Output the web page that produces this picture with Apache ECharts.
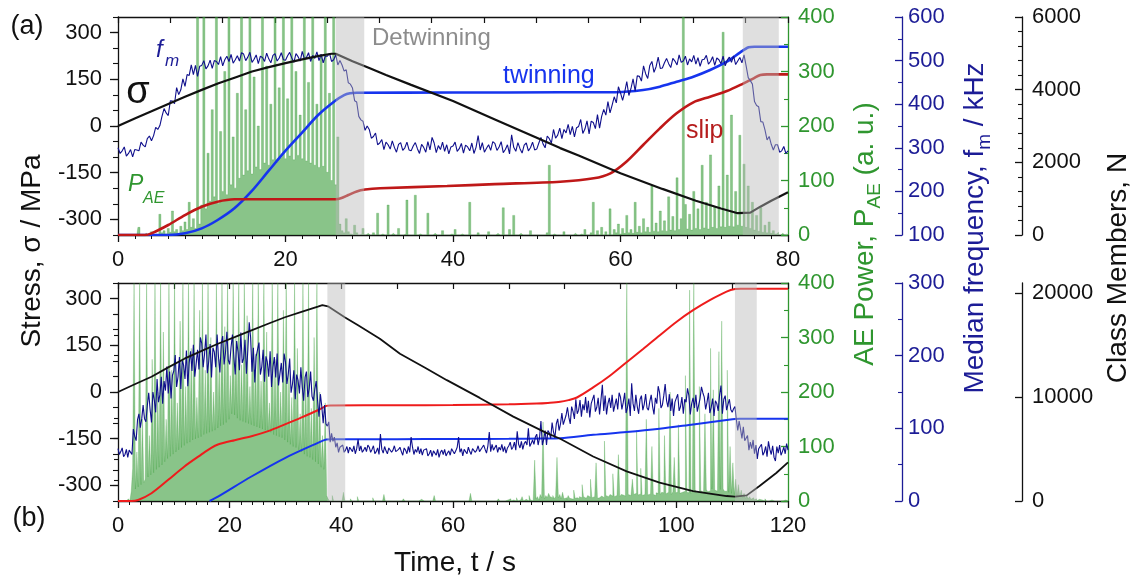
<!DOCTYPE html>
<html>
<head>
<meta charset="utf-8">
<title>Stress, AE power, median frequency and class members</title>
<script src="https://cdn.jsdelivr.net/npm/echarts@6.0.0/dist/echarts.min.js"></script>
<style>
  html, body { margin: 0; padding: 0; background: #ffffff; }
  #chart { width: 1138px; height: 583px; }
</style>
</head>
<body>
<div id="chart"></div>
<script>
// Sampling interval of the AE power and median-frequency traces (s)
const SAMPLE_STEP = 0.25;

// Tick values
const stressTicks = [-300, -150, 0, 150, 300];
const classTicksB = [0, 10000, 20000];
const classMinorB = [2000, 4000, 6000, 8000, 12000, 14000, 16000, 18000];

// ---------- (a) 0–80 s ----------
const stressA_t = [0, 2, 4, 6, 8, 10, 12, 14, 16, 18, 20, 22, 24, 25.5, 26, 28, 30, 32, 35, 40, 45, 50, 52.8, 55, 60, 65, 69, 72, 74, 75.5, 76.7, 78, 80];
const stressA = [0, 24, 47, 71, 94, 116, 137, 156, 175, 189, 202, 214, 225, 232, 232, 208, 186, 164, 132, 80, 21, -38, -71, -95, -152, -202, -240, -265, -280, -278, -259, -240, -213];

const twinA_t = [0, 6, 8, 10, 11.9, 13.9, 15.9, 17.9, 19.9, 21.9, 23.9, 25.9, 27, 27.7, 28.5, 40, 52.8, 59.5, 62.7, 64.7, 66.7, 68.7, 70.7, 72.7, 74.3, 75.3, 76, 80];
const twinA = [0, 0, 46, 183, 413, 734, 1192, 1742, 2293, 2798, 3302, 3688, 3850, 3900, 3915, 3920, 3927, 3930, 3990, 4081, 4219, 4357, 4541, 4770, 5028, 5166, 5183, 5183];

const slipA_t = [0, 3.2, 4, 6, 8, 10, 11.9, 13.9, 16, 26, 26.6, 27.5, 28.5, 29.5, 31.3, 39.3, 45, 52.8, 56.8, 58.8, 60.7, 62.7, 64.7, 66.7, 68.7, 70.7, 72.7, 74.7, 75.9, 76.7, 77.5, 80];
const slipA = [0, 0, 46, 275, 550, 779, 917, 982, 985, 985, 1010, 1100, 1200, 1250, 1285, 1348, 1400, 1467, 1560, 1698, 2017, 2477, 2936, 3349, 3652, 3807, 3963, 4175, 4313, 4403, 4422, 4422];

// median frequency f_m (kHz), one value every SAMPLE_STEP
const fmA = [
  300, 287, 293, 302, 281, 287, 296, 279, 296, 295, 293, 313, 306, 302, 321, 327, 316, 328, 347, 342,
  351, 372, 390, 380, 374, 408, 407, 401, 438, 422, 433, 458, 441, 468, 466, 490, 468, 489, 464, 487,
  489, 500, 481, 488, 501, 482, 500, 498, 491, 509, 488, 502, 510, 498, 514, 494, 502, 511, 499, 518,
  515, 500, 508, 519, 496, 503, 513, 493, 510, 507, 498, 517, 504, 495, 512, 516, 499, 506, 518, 502,
  501, 511, 519, 506, 496, 516, 509, 499, 521, 504, 507, 518, 498, 512, 505, 520, 500, 515, 495, 510,
  510, 517, 498, 502, 513, 490, 500, 490, 476, 479, 449, 446, 437, 408, 405, 372, 364, 361, 340, 350,
  342, 322, 326, 334, 307, 311, 319, 296, 313, 307, 297, 316, 301, 290, 308, 312, 294, 300, 313, 295,
  293, 304, 312, 298, 287, 308, 301, 290, 314, 295, 324, 311, 289, 305, 296, 313, 292, 307, 286, 302,
  304, 313, 292, 298, 310, 288, 306, 302, 293, 311, 287, 301, 328, 295, 312, 290, 299, 307, 294, 314,
  310, 294, 302, 314, 289, 296, 307, 286, 330, 301, 292, 312, 298, 288, 306, 311, 293, 300, 313, 295,
  297, 311, 324, 309, 300, 327, 321, 311, 342, 322, 329, 345, 321, 342, 334, 354, 330, 349, 325, 346,
  349, 365, 333, 343, 362, 332, 361, 358, 344, 376, 345, 372, 388, 375, 406, 380, 398, 417, 403, 440,
  426, 409, 428, 452, 420, 436, 458, 430, 465, 464, 453, 488, 470, 459, 489, 498, 473, 486, 508, 482,
  483, 495, 505, 493, 484, 505, 499, 490, 513, 496, 499, 510, 490, 504, 497, 512, 492, 507, 487, 502,
  503, 512, 492, 498, 509, 489, 506, 502, 493, 510, 488, 501, 508, 496, 511, 491, 499, 507, 495, 513,
  488, 461, 454, 446, 406, 397, 394, 360, 359, 341, 318, 326, 308, 295, 307, 307, 290, 293, 303, 287,
  293
];

// AE power P_AE (a.u.), one value every SAMPLE_STEP
const aeA = [
  0, 0, 0, 0, 0, 0, 0, 0, 0, 0, 14, 0, 0, 3, 0, 0, 6, 0, 2, 0,
  38, 4, 8, 2, 12, 5, 44, 6, 10, 3, 16, 8, 24, 10, 60, 14, 30, 12, 400, 20,
  55, 400, 48, 150, 62, 230, 70, 400, 58, 190, 80, 300, 74, 400, 92, 180, 86, 260, 104, 400,
  110, 230, 118, 400, 112, 290, 125, 200, 120, 400, 132, 310, 128, 240, 138, 400, 134, 270, 142, 400,
  140, 250, 145, 400, 138, 300, 146, 220, 140, 400, 136, 280, 132, 400, 128, 240, 124, 330, 126, 400,
  115, 260, 100, 400, 92, 180, 20, 8, 4, 30, 6, 2, 0, 18, 4, 0, 2, 12, 0, 3,
  0, 0, 4, 0, 40, 0, 2, 0, 0, 55, 0, 3, 0, 0, 12, 0, 0, 2, 64, 0,
  0, 0, 73, 0, 2, 0, 0, 0, 40, 0, 0, 3, 0, 0, 0, 8, 0, 0, 0, 2,
  0, 10, 0, 0, 2, 0, 0, 0, 60, 0, 0, 0, 4, 0, 0, 0, 0, 6, 0, 0,
  0, 3, 0, 0, 50, 0, 0, 10, 0, 36, 0, 0, 3, 0, 0, 0, 0, 8, 0, 0,
  0, 0, 0, 0, 0, 4, 128, 0, 2, 0, 0, 0, 0, 6, 0, 0, 0, 0, 3, 0,
  0, 2, 0, 10, 0, 0, 4, 60, 0, 8, 0, 14, 0, 6, 0, 48, 0, 10, 4, 20,
  2, 12, 3, 36, 4, 10, 3, 60, 5, 16, 4, 30, 6, 14, 5, 90, 7, 22, 6, 44,
  8, 26, 7, 70, 9, 34, 8, 105, 10, 30, 400, 56, 11, 38, 9, 80, 12, 48, 10, 128,
  13, 60, 11, 147, 14, 52, 12, 90, 15, 372, 14, 110, 16, 220, 15, 80, 18, 183, 16, 130,
  14, 90, 12, 60, 9, 36, 7, 50, 5, 18, 4, 24, 3, 8, 2, 5, 0, 3, 0, 2,
  0
];

const detwinA = [[26.0, 29.4], [74.6, 78.9]];

// ---------- (b) 0–120 s ----------
const stressB_t = [0, 3, 6, 9, 11.9, 15, 17.9, 21, 23.9, 27, 29.9, 33, 35.8, 36.6, 37.6, 40.6, 43, 46.9, 50.5, 55, 58.9, 64.8, 70.8, 76.8, 79.2, 85.1, 91.1, 97, 103, 109, 110.5, 112.6, 114.9, 117.9, 120];
const stressB = [0, 25, 49, 79, 107, 132, 155, 177, 198, 220, 240, 258, 274, 279, 275, 240, 214, 171, 123, 78, 38, -19, -79, -132, -150, -207, -255, -291, -318, -334, -336, -332, -302, -260, -226];

const twinB_t = [16.4, 17.9, 23.9, 29.9, 35.8, 37.3, 38.3, 50, 60, 70, 76, 79.2, 85.1, 91.1, 97, 103, 109, 110.5, 111.3, 120];
const twinB = [0, 420, 2360, 4140, 5600, 5920, 5950, 5960, 5970, 5990, 6020, 6050, 6380, 6640, 6960, 7380, 7800, 7900, 7920, 7920];

const slipB_t = [0, 2.4, 3.6, 6, 9, 11.9, 14.9, 16.7, 17.9, 20.9, 23.9, 26.9, 29.9, 32.8, 35.8, 37.3, 38, 50, 60, 70, 75, 77, 79.2, 80.7, 82.2, 85.1, 88.1, 91.1, 94.1, 97, 100, 103, 106, 109, 110.5, 111.5, 120];
const slipB = [0, 0, 100, 750, 2040, 3330, 4470, 5120, 5440, 5860, 6240, 6730, 7380, 8030, 8740, 9160, 9200, 9220, 9250, 9310, 9390, 9450, 9550, 9720, 9970, 10940, 12070, 13370, 14660, 15950, 17250, 18380, 19350, 20170, 20420, 20450, 20450];

const fmB = [
  72, 64, 68, 73, 61, 64, 71, 60, 70, 71, 64, 99, 89, 83, 112, 120, 101, 113, 132, 113,
  109, 131, 149, 126, 108, 150, 139, 122, 168, 136, 146, 171, 134, 165, 152, 185, 148, 178, 141, 173,
  179, 201, 157, 171, 198, 154, 193, 187, 168, 207, 158, 190, 206, 179, 215, 171, 189, 208, 181, 225,
  217, 184, 202, 229, 176, 192, 216, 170, 211, 205, 184, 229, 198, 177, 217, 227, 188, 204, 233, 194,
  188, 212, 229, 198, 174, 220, 205, 180, 232, 190, 196, 222, 175, 207, 246, 225, 178, 211, 163, 199,
  200, 218, 174, 185, 208, 164, 199, 191, 171, 206, 157, 184, 198, 170, 203, 159, 175, 190, 163, 203,
  191, 161, 175, 196, 149, 161, 180, 140, 174, 166, 148, 184, 157, 138, 170, 178, 143, 155, 178, 144,
  138, 154, 165, 138, 116, 147, 130, 107, 132, 106, 103, 109, 81, 93, 82, 88, 74, 80, 67, 74,
  73, 77, 67, 70, 75, 66, 74, 72, 68, 76, 65, 72, 85, 69, 76, 67, 70, 74, 68, 77,
  74, 67, 71, 76, 65, 68, 73, 64, 92, 71, 66, 75, 69, 65, 73, 75, 67, 70, 76, 68,
  66, 71, 74, 68, 63, 73, 70, 65, 75, 67, 88, 74, 64, 71, 67, 75, 65, 72, 63, 70,
  68, 72, 62, 65, 70, 61, 69, 67, 63, 71, 60, 67, 70, 64, 71, 62, 66, 69, 63, 72,
  72, 65, 69, 74, 88, 67, 72, 62, 71, 70, 65, 74, 68, 64, 72, 74, 67, 70, 76, 68,
  69, 74, 77, 71, 66, 76, 95, 68, 78, 70, 71, 77, 67, 74, 70, 78, 68, 75, 66, 73,
  76, 81, 71, 74, 81, 70, 96, 78, 73, 82, 71, 79, 82, 77, 100, 75, 79, 84, 78, 88,
  92, 77, 87, 110, 77, 85, 97, 77, 97, 94, 86, 108, 95, 87, 106, 113, 97, 106, 121, 105,
  104, 118, 129, 115, 106, 130, 123, 113, 140, 120, 125, 139, 116, 133, 125, 143, 121, 138, 115, 134,
  136, 146, 123, 129, 142, 119, 139, 160, 124, 145, 119, 134, 142, 128, 146, 123, 132, 141, 126, 149,
  143, 126, 136, 149, 121, 129, 141, 117, 162, 134, 124, 146, 130, 120, 140, 145, 125, 133, 147, 128,
  125, 137, 146, 130, 119, 142, 134, 158, 149, 128, 132, 145, 161, 138, 129, 147, 124, 141, 117, 136,
  136, 147, 124, 130, 143, 120, 140, 136, 155, 145, 119, 134, 142, 128, 146, 123, 132, 141, 157, 149,
  143, 126, 136, 149, 121, 129, 141, 117, 138, 134, 124, 146, 159, 120, 140, 145, 125, 133, 140, 126,
  122, 127, 130, 112, 97, 110, 99, 86, 102, 83, 83, 90, 70, 81, 72, 84, 65, 77, 58, 72,
  71, 78, 63, 67, 75, 61, 82, 71, 64, 76, 60, 55, 75, 66, 77, 63, 68, 74, 65, 79,
  70
];

const aeB = [
  0, 0, 0, 0, 0, 0, 0, 0, 4, 0, 18, 60, 400, 22, 90, 26, 400, 30, 150, 34,
  40, 400, 44, 120, 48, 260, 52, 400, 58, 200, 62, 400, 66, 310, 72, 150, 78, 400, 82, 240,
  86, 400, 90, 180, 94, 330, 98, 400, 102, 210, 106, 400, 108, 280, 112, 400, 114, 190, 116, 350,
  118, 400, 122, 240, 124, 400, 126, 300, 128, 200, 130, 400, 134, 260, 138, 400, 140, 320, 144, 400,
  150, 230, 160, 400, 158, 300, 152, 400, 148, 250, 146, 400, 144, 340, 142, 210, 140, 400, 138, 270,
  136, 400, 134, 220, 132, 400, 130, 310, 128, 180, 126, 400, 122, 260, 120, 400, 118, 200, 116, 350,
  112, 400, 108, 240, 104, 190, 100, 400, 98, 280, 94, 160, 90, 400, 86, 230, 82, 400, 80, 170,
  76, 300, 72, 400, 68, 200, 62, 120, 58, 180, 10, 4, 0, 0, 10, 0, 0, 2, 0, 0,
  0, 0, 16, 0, 0, 0, 0, 4, 0, 0, 0, 0, 8, 0, 0, 0, 0, 0, 0, 0,
  0, 0, 0, 6, 0, 0, 0, 0, 0, 0, 0, 12, 0, 0, 0, 0, 0, 0, 0, 0,
  0, 0, 0, 0, 0, 4, 0, 0, 0, 0, 0, 0, 0, 0, 0, 0, 0, 3, 0, 0,
  0, 0, 0, 0, 0, 0, 0, 10, 0, 0, 0, 0, 0, 0, 0, 0, 0, 0, 0, 0,
  0, 0, 0, 0, 0, 0, 0, 0, 0, 0, 0, 0, 0, 14, 0, 0, 0, 0, 0, 0,
  0, 0, 0, 0, 0, 0, 0, 0, 0, 0, 0, 0, 0, 4, 0, 0, 0, 0, 0, 2,
  0, 4, 0, 2, 0, 0, 6, 0, 2, 0, 8, 0, 3, 0, 0, 10, 2, 0, 4, 75,
  4, 8, 2, 12, 6, 145, 4, 10, 6, 14, 8, 6, 10, 4, 8, 80, 6, 12, 4, 16,
  4, 6, 2, 10, 5, 4, 3, 20, 5, 6, 4, 8, 6, 30, 8, 5, 5, 10, 7, 40,
  6, 8, 8, 70, 5, 6, 9, 10, 6, 110, 10, 8, 7, 12, 9, 50, 8, 10, 10, 85,
  8, 12, 11, 9, 9, 400, 12, 10, 10, 40, 12, 14, 130, 11, 13, 60, 10, 12, 14, 150,
  11, 13, 14, 100, 12, 10, 15, 14, 170, 12, 16, 15, 120, 13, 16, 14, 200, 12, 17, 80,
  15, 16, 140, 14, 16, 13, 18, 230, 16, 15, 387, 14, 18, 400, 20, 15, 17, 210, 19, 16,
  18, 160, 21, 17, 19, 280, 22, 204, 20, 18, 23, 274, 21, 330, 22, 18, 18, 240, 16, 100,
  14, 70, 12, 40, 10, 30, 8, 20, 6, 14, 5, 10, 4, 8, 3, 6, 2, 4, 0, 3,
  0, 2, 0, 0, 4, 0, 0, 0, 2, 0, 0, 0, 0, 3, 0, 0, 0, 0, 2, 0,
  0
];

const detwinB = [[37.5, 40.7], [110.5, 114.4]];

// ---------- styling ----------
const FONT = '"Liberation Sans", Arial, Helvetica, sans-serif';
const INK = '#111111';
const GREEN = '#2f962f';
const NAVY = '#1c1c96';
const C_TWIN = '#1634ee';
const C_SLIP_A = '#bf1818';
const C_SLIP_B = '#ee1c1c';
const C_FM = '#0f0f8c';
const C_AE = '#3a9d3a';
const C_BAND = 'rgba(185,185,185,0.45)';

const at = (ts, vs) => ts.map((t, i) => [t, vs[i]]);
const sampled = vs => vs.map((v, i) => [i * SAMPLE_STEP, v]);
const plainNumber = v => String(v);

function timeAxis(grid, max) {
  return {
    type: 'value', gridIndex: grid, position: 'bottom', min: 0, max: max, interval: 20,
    axisLine: { show: true, onZero: false, lineStyle: { color: INK, width: 1.3 } },
    axisTick: { show: true, length: 7, lineStyle: { color: INK, width: 1.3 } },
    minorTick: { show: true, splitNumber: 10, length: 4, lineStyle: { color: INK, width: 1 } },
    axisLabel: { fontSize: 22, fontFamily: FONT, color: INK, margin: 14, formatter: plainNumber },
    splitLine: { show: false }, minorSplitLine: { show: false }
  };
}
function frameTopAxis(grid, max, step) {
  return {
    type: 'value', gridIndex: grid, position: 'top', min: 0, max: max, interval: step,
    axisLine: { show: true, onZero: false, lineStyle: { color: INK, width: 1.3 } },
    axisTick: { show: true, inside: true, length: 6, lineStyle: { color: INK, width: 1.2 } },
    axisLabel: { show: false }, splitLine: { show: false }
  };
}
function stressAxis(grid) {
  return {
    type: 'value', gridIndex: grid, position: 'left', min: -350, max: 350,
    axisLine: { show: true, onZero: false, lineStyle: { color: INK, width: 1.3 } },
    axisTick: { show: true, length: 8, customValues: stressTicks, lineStyle: { color: INK, width: 1.3 } },
    axisLabel: { customValues: stressTicks, fontSize: 22, fontFamily: FONT, color: INK, margin: 16, formatter: plainNumber },
    splitLine: { show: false }
  };
}
function stressMinorAxis(grid) {
  return {
    type: 'value', gridIndex: grid, position: 'left', min: -350, max: 350, interval: 50,
    axisLine: { show: false }, axisTick: { show: true, length: 5, lineStyle: { color: INK, width: 1.1 } },
    axisLabel: { show: false }, splitLine: { show: false }
  };
}
function rightAxis(grid, offset, min, max, interval, minorSplit, color, margin) {
  return {
    type: 'value', gridIndex: grid, position: 'right', offset: offset, min: min, max: max, interval: interval,
    axisLine: { show: true, onZero: false, lineStyle: { color: color, width: 1.3 } },
    axisTick: { show: true, inside: true, length: 7, lineStyle: { color: color, width: 1.3 } },
    minorTick: { show: true, splitNumber: minorSplit, length: 4, lineStyle: { color: color, width: 1.1 } },
    axisLabel: { fontSize: 22, fontFamily: FONT, color: color, margin: margin, formatter: plainNumber },
    splitLine: { show: false }, minorSplitLine: { show: false }
  };
}

function curve(xi, yi, data, color, width, smooth, z) {
  return {
    type: 'line', xAxisIndex: xi, yAxisIndex: yi, data: data, showSymbol: false, symbol: 'none',
    smooth: smooth, z: z, silent: true, lineStyle: { color: color, width: width }, itemStyle: { color: color }
  };
}
// AE power: each sample drawn as a filled step, outline as thin translucent strokes
function aePower(xi, yi, data) {
  return {
    type: 'line', xAxisIndex: xi, yAxisIndex: yi, data: data, showSymbol: false, symbol: 'none',
    step: 'middle', z: 1, silent: true,
    lineStyle: { color: C_AE, width: 0.6, opacity: 0.45 },
    areaStyle: { color: C_AE, opacity: 0.6 }
  };
}
function bands(xi, yi, spans) {
  return {
    type: 'custom', xAxisIndex: xi, yAxisIndex: yi, z: 6, silent: true, data: spans,
    encode: { x: [0, 1] },
    renderItem: function (params, api) {
      const cs = params.coordSys;
      const x0 = api.coord([api.value(0), 0])[0];
      const x1 = api.coord([api.value(1), 0])[0];
      return { type: 'rect', shape: { x: x0, y: cs.y, width: x1 - x0, height: cs.height }, style: { fill: C_BAND } };
    }
  };
}

function label(x, y, text, size, color, extra) {
  return {
    type: 'text', x: x, y: y, z: 100, silent: true,
    style: Object.assign({
      text: text, fontSize: size, fontFamily: FONT, fill: color,
      align: 'left', verticalAlign: 'middle'
    }, extra || {})
  };
}
function centered(x, y, text, size, color, rotate, rich) {
  const el = label(x, y, text, size, color, { align: 'center', verticalAlign: 'middle' });
  if (rotate) el.rotation = Math.PI / 2;
  if (rich) {
    el.style.lineHeight = 38;
    el.style.rich = { s: { fontSize: 19, fontFamily: FONT, fill: color, verticalAlign: 'bottom', lineHeight: 19 } };
  }
  return el;
}

const chart = echarts.init(document.getElementById('chart'), null, { renderer: 'canvas' });
chart.setOption({
  animation: false,
  backgroundColor: '#ffffff',
  grid: [
    { left: 118, top: 17, width: 670, height: 218, outerBoundsMode: 'none' },
    { left: 118, top: 283, width: 670, height: 218, outerBoundsMode: 'none' }
  ],
  xAxis: [
    timeAxis(0, 80), frameTopAxis(0, 80, 6.24),
    timeAxis(1, 120), frameTopAxis(1, 120, 10)
  ],
  yAxis: [
    stressAxis(0), stressMinorAxis(0),
    rightAxis(0, 0, 0, 400, 100, 2, GREEN, 10),
    rightAxis(0, 114, 100, 600, 100, 2, NAVY, 6),
    rightAxis(0, 234, 0, 6000, 2000, 5, INK, 10),
    stressAxis(1), stressMinorAxis(1),
    rightAxis(1, 0, 0, 400, 100, 2, GREEN, 10),
    rightAxis(1, 114, 0, 300, 100, 2, NAVY, 6),
    {
      type: 'value', gridIndex: 1, position: 'right', offset: 234, min: 0, max: 21000,
      axisLine: { show: true, onZero: false, lineStyle: { color: INK, width: 1.3 } },
      axisTick: { show: true, inside: true, length: 7, customValues: classTicksB, lineStyle: { color: INK, width: 1.3 } },
      axisLabel: { customValues: classTicksB, fontSize: 22, fontFamily: FONT, color: INK, margin: 10, formatter: plainNumber },
      splitLine: { show: false }
    },
    {
      type: 'value', gridIndex: 1, position: 'right', offset: 234, min: 0, max: 21000,
      axisLine: { show: false },
      axisTick: { show: true, inside: true, length: 4, customValues: classMinorB, lineStyle: { color: INK, width: 1.1 } },
      axisLabel: { show: false }, splitLine: { show: false }
    }
  ],
  series: [
    aePower(0, 2, sampled(aeA)),
    curve(0, 4, at(twinA_t, twinA), C_TWIN, 2.6, 0.3, 3),
    curve(0, 4, at(slipA_t, slipA), C_SLIP_A, 2.6, 0.3, 3),
    curve(0, 3, sampled(fmA), C_FM, 1.1, false, 4),
    curve(0, 0, at(stressA_t, stressA), INK, 2.2, false, 5),
    bands(0, 2, detwinA),

    aePower(2, 7, sampled(aeB)),
    curve(2, 9, at(twinB_t, twinB), C_TWIN, 2, 0.3, 3),
    curve(2, 9, at(slipB_t, slipB), C_SLIP_B, 2, 0.3, 3),
    curve(2, 8, sampled(fmB), C_FM, 1.1, false, 4),
    curve(2, 5, at(stressB_t, stressB), INK, 1.8, false, 5),
    bands(2, 7, detwinB)
  ],
  graphic: [
    centered(27, 27, '(a)', 27, INK),
    centered(29, 519, '(b)', 27, INK),
    label(372, 38, 'Detwinning', 24, '#8c8c8c'),
    label(503, 76, 'twinning', 25, C_TWIN),
    label(686, 131, 'slip', 25, '#b51c1c'),
    centered(138, 93, 'σ', 38, INK),
    label(156, 50, 'f', 24, NAVY, { fontStyle: 'italic' }),
    label(165, 61, 'm', 17, NAVY, { fontStyle: 'italic' }),
    label(128, 185, 'P', 23, GREEN, { fontStyle: 'italic' }),
    label(143, 199, 'AE', 16, GREEN, { fontStyle: 'italic' }),
    centered(32, 251, 'Stress, σ / MPa', 28, INK, true),
    centered(455, 563, 'Time, t / s', 28, INK),
    centered(865, 234, 'AE Power, P{s|AE} (a. u.)', 28, GREEN, true, true),
    centered(975, 228, 'Median frequency, f{s|m} / kHz', 28, NAVY, true, true),
    centered(1118, 268, 'Class Members, N', 28, INK, true)
  ]
});
</script>
</body>
</html>
